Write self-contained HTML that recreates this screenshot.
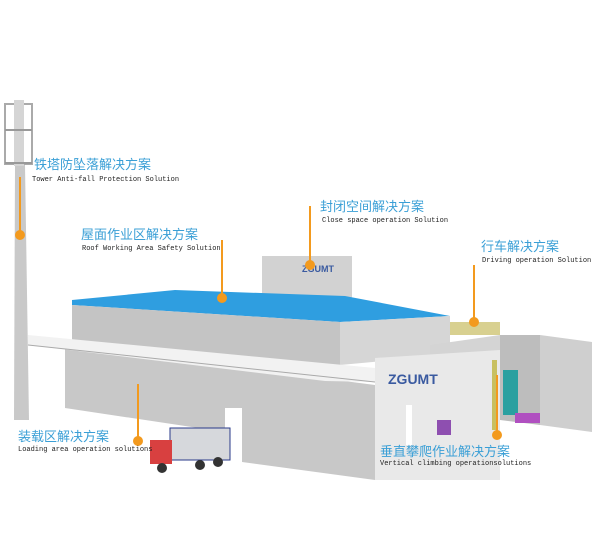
<!DOCTYPE html>
<html><head><meta charset="utf-8"><style>
body{margin:0;background:#fff;}
svg{display:block}
.cn{font-family:"Liberation Sans","Noto Sans CJK SC",sans-serif;font-size:13px;fill:#3a9fd6}
.en{font-family:"Liberation Mono",monospace;font-size:7px;fill:#222}
</style></head><body>
<svg width="600" height="537" viewBox="0 0 600 537" xmlns="http://www.w3.org/2000/svg">
<!-- tower -->
<polygon points="15,165 25,165 29,420 14,420" fill="#c9c9c9"/>
<rect x="5" y="104" width="27" height="60" fill="none" stroke="#aaa" stroke-width="2"/>
<rect x="14" y="100" width="10" height="66" fill="#d5d5d5"/>
<line x1="5" y1="130" x2="32" y2="130" stroke="#999" stroke-width="2"/>
<line x1="5" y1="163" x2="32" y2="163" stroke="#999" stroke-width="2"/>
<!-- right walls -->
<polygon points="500,335 540,335 540,425 500,420" fill="#bdbdbd"/>
<polygon points="540,335 592,342 592,432 540,425" fill="#cfcfcf"/>
<!-- crane -->
<polygon points="448,322 500,322 500,335 448,335" fill="#d8d090"/>
<!-- silo -->
<rect x="262" y="256" width="90" height="52" fill="#d2d2d2"/>
<text x="302" y="272" font-family="Liberation Sans,sans-serif" font-weight="bold" font-size="9" fill="#3a5aa0">ZGUMT</text>
<!-- upper block -->
<polygon points="72,300 175,290 345,296 450,316 340,322 72,305" fill="#2f9ee0"/>
<polygon points="72,305 340,322 340,365 72,342" fill="#c4c4c4"/>
<polygon points="340,322 450,316 450,355 340,365" fill="#d6d6d6"/>
<!-- back right lower -->
<polygon points="430,345 500,335 500,410 430,415" fill="#d4d4d4"/>
<!-- lower left building -->
<polygon points="65,345 375,385 375,480 242,462 242,408 225,408 225,432 65,408" fill="#c8c8c8"/>
<polygon points="28,335 375,368 375,382 325,381 28,345" fill="#f2f2f2"/>
<line x1="28" y1="345" x2="375" y2="382" stroke="#aaa" stroke-width="1"/>
<!-- ZGUMT block -->
<polygon points="375,358 500,350 500,480 375,480" fill="#e9e9e9"/>
<text x="388" y="384" font-family="Liberation Sans,sans-serif" font-weight="bold" font-size="14" fill="#3a5aa0">ZGUMT</text>
<rect x="406" y="405" width="6" height="40" fill="#fff"/>
<rect x="437" y="420" width="14" height="15" fill="#8e4fb0"/>
<rect x="503" y="370" width="15" height="45" fill="#2aa0a0"/>
<rect x="515" y="413" width="25" height="10" fill="#b050c0"/>
<rect x="492" y="360" width="5" height="70" fill="#c8c060"/>
<!-- truck -->
<rect x="170" y="428" width="60" height="32" fill="#d6d8dc" stroke="#2a3a8a" stroke-width="1"/>
<rect x="150" y="440" width="22" height="24" fill="#d84040"/>
<circle cx="162" cy="468" r="5" fill="#333"/><circle cx="200" cy="465" r="5" fill="#333"/><circle cx="218" cy="462" r="5" fill="#333"/>
<!-- orange markers -->
<g stroke="#f39a1e" stroke-width="2" fill="#f39a1e">
<line x1="20" y1="177" x2="20" y2="235"/><circle cx="20" cy="235" r="4"/>
<line x1="222" y1="240" x2="222" y2="298"/><circle cx="222" cy="298" r="4"/>
<line x1="310" y1="206" x2="310" y2="265"/><circle cx="310" cy="265" r="4"/>
<line x1="474" y1="265" x2="474" y2="322"/><circle cx="474" cy="322" r="4"/>
<line x1="138" y1="384" x2="138" y2="440"/><circle cx="138" cy="441" r="4"/>
<line x1="497" y1="375" x2="497" y2="435"/><circle cx="497" cy="435" r="4"/>
</g>
<!-- labels -->
<text class="cn" x="34" y="169">铁塔防坠落解决方案</text>
<text class="en" x="32" y="181">Tower Anti-fall Protection Solution</text>
<text class="cn" x="81" y="239">屋面作业区解决方案</text>
<text class="en" x="82" y="250">Roof Working Area Safety Solution</text>
<text class="cn" x="320" y="211">封闭空间解决方案</text>
<text class="en" x="322" y="222">Close space operation Solution</text>
<text class="cn" x="481" y="251">行车解决方案</text>
<text class="en" x="482" y="262">Driving operation Solution</text>
<text class="cn" x="18" y="441">装载区解决方案</text>
<text class="en" x="18" y="451">Loading area operation solutions</text>
<text class="cn" x="380" y="456">垂直攀爬作业解决方案</text>
<text class="en" x="380" y="465">Vertical climbing operationsolutions</text>
</svg>
</body></html>
